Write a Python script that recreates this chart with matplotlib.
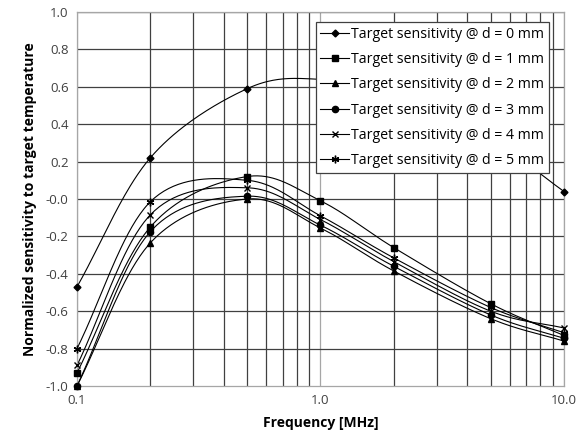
import numpy as np
import matplotlib
matplotlib.use("Agg")
import matplotlib.pyplot as plt
from matplotlib.ticker import FixedLocator, NullFormatter

freq = [0.1, 0.2, 0.5, 1.0, 2.0, 5.0, 10.0]
labels = ["Target sensitivity @ d = %d mm" % i for i in range(6)]
d0 = [-0.47, 0.22, 0.59, 0.64, 0.56, 0.32, 0.04]
d1 = [-0.93, -0.15, 0.12, -0.01, -0.26, -0.56, -0.73]
d2 = [-1.00, -0.235, 0.00, -0.155, -0.385, -0.64, -0.76]
d3 = [-1.00, -0.175, 0.015, -0.14, -0.36, -0.62, -0.745]
d4 = [-0.89, -0.085, 0.06, -0.11, -0.335, -0.60, -0.69]
d5 = [-0.80, -0.015, 0.10, -0.09, -0.315, -0.58, -0.715]
series = [d0, d1, d2, d3, d4, d5]
markers = ["D", "s", "^", "o", "x", (6, 2, 0)]
msizes = [3.5, 4.5, 4.5, 4.5, 4.5, 5.5]

plt.rcParams['font.family'] = ['Open Sans', 'DejaVu Sans']

def smooth(xs, ys, n=40):
    # Catmull-Rom spline in (log10 x, y) space for smooth line drawing
    lx = np.log10(np.asarray(xs, float))
    y = np.asarray(ys, float)
    P = np.column_stack([lx, y])
    P = np.vstack([2 * P[0] - P[1], P, 2 * P[-1] - P[-2]])
    out = []
    for i in range(1, len(P) - 2):
        p0, p1, p2, p3 = P[i - 1], P[i], P[i + 1], P[i + 2]
        t = np.linspace(0, 1, n, endpoint=False)[:, None]
        c = 0.5 * ((2 * p1) + (-p0 + p2) * t + (2 * p0 - 5 * p1 + 4 * p2 - p3) * t ** 2
                   + (-p0 + 3 * p1 - 3 * p2 + p3) * t ** 3)
        out.append(c)
    out.append(P[-2][None, :])
    C = np.vstack(out)
    return 10 ** C[:, 0], C[:, 1]

fig = plt.figure(figsize=(5.85, 4.36), dpi=100)
ax = fig.add_axes([0.1316, 0.1147, 0.8325, 0.8578])
ax.set_xscale('log')
ax.set_xlim(0.1, 10)
ax.set_ylim(-1.0, 1.0)

# grid
minor = [m * 10.0 ** e for e in (-1, 0) for m in range(2, 10)]
for xv in minor:
    ax.axvline(xv, color='#404040', lw=0.9, zorder=0)
for xv in (0.1, 1.0, 10.0):
    ax.axvline(xv, color='#a6a6a6', lw=0.9, zorder=0)
for yv in np.arange(-0.8, 1.01, 0.2):
    ax.axhline(yv, color='#404040', lw=0.9, zorder=0)

handles = []
for s, lab, mk, ms in zip(series, labels, markers, msizes):
    sx, sy = smooth(freq, s)
    ax.plot(sx, sy, color='black', lw=0.8, zorder=2, clip_on=True)
    ax.plot(freq, s, linestyle='none', marker=mk, color='black', ms=ms,
            mew=1.0, zorder=3, clip_on=False)
    h, = ax.plot([], [], color='black', lw=0.8, marker=mk, ms=ms, mew=1.0, label=lab)
    handles.append(h)

ax.set_xticks([0.1, 1.0, 10.0])
ax.set_xticklabels(['0.1', '1.0', '10.0'])
ax.xaxis.set_minor_locator(FixedLocator(minor))
ax.xaxis.set_minor_formatter(NullFormatter())
ax.set_yticks(np.round(np.arange(-1.0, 1.01, 0.2), 1))
ax.set_yticklabels(['%.1f' % v for v in np.arange(-1.0, 1.01, 0.2)])
ax.tick_params(axis='both', which='both', length=0, labelsize=9.5, colors='#404040', pad=6)
for sp in ax.spines.values():
    sp.set_color('#a6a6a6')
    sp.set_linewidth(0.9)

ax.set_xlabel('Frequency [MHz]', fontsize=10, fontweight='bold', labelpad=6)
ax.set_ylabel('Normalized sensitivity to target temperature', fontsize=10,
              fontweight='bold', labelpad=6)

leg = ax.legend(handles=handles, loc='upper right', bbox_to_anchor=(0.969, 0.973),
                fontsize=10.2, frameon=True, fancybox=False, framealpha=1,
                edgecolor='#404040', handlelength=2.0, handletextpad=0.15,
                labelspacing=0.72, borderpad=0.35, borderaxespad=0)
leg.get_frame().set_linewidth(0.9)
leg.set_zorder(5)

fig.savefig('out.png', dpi=100)
